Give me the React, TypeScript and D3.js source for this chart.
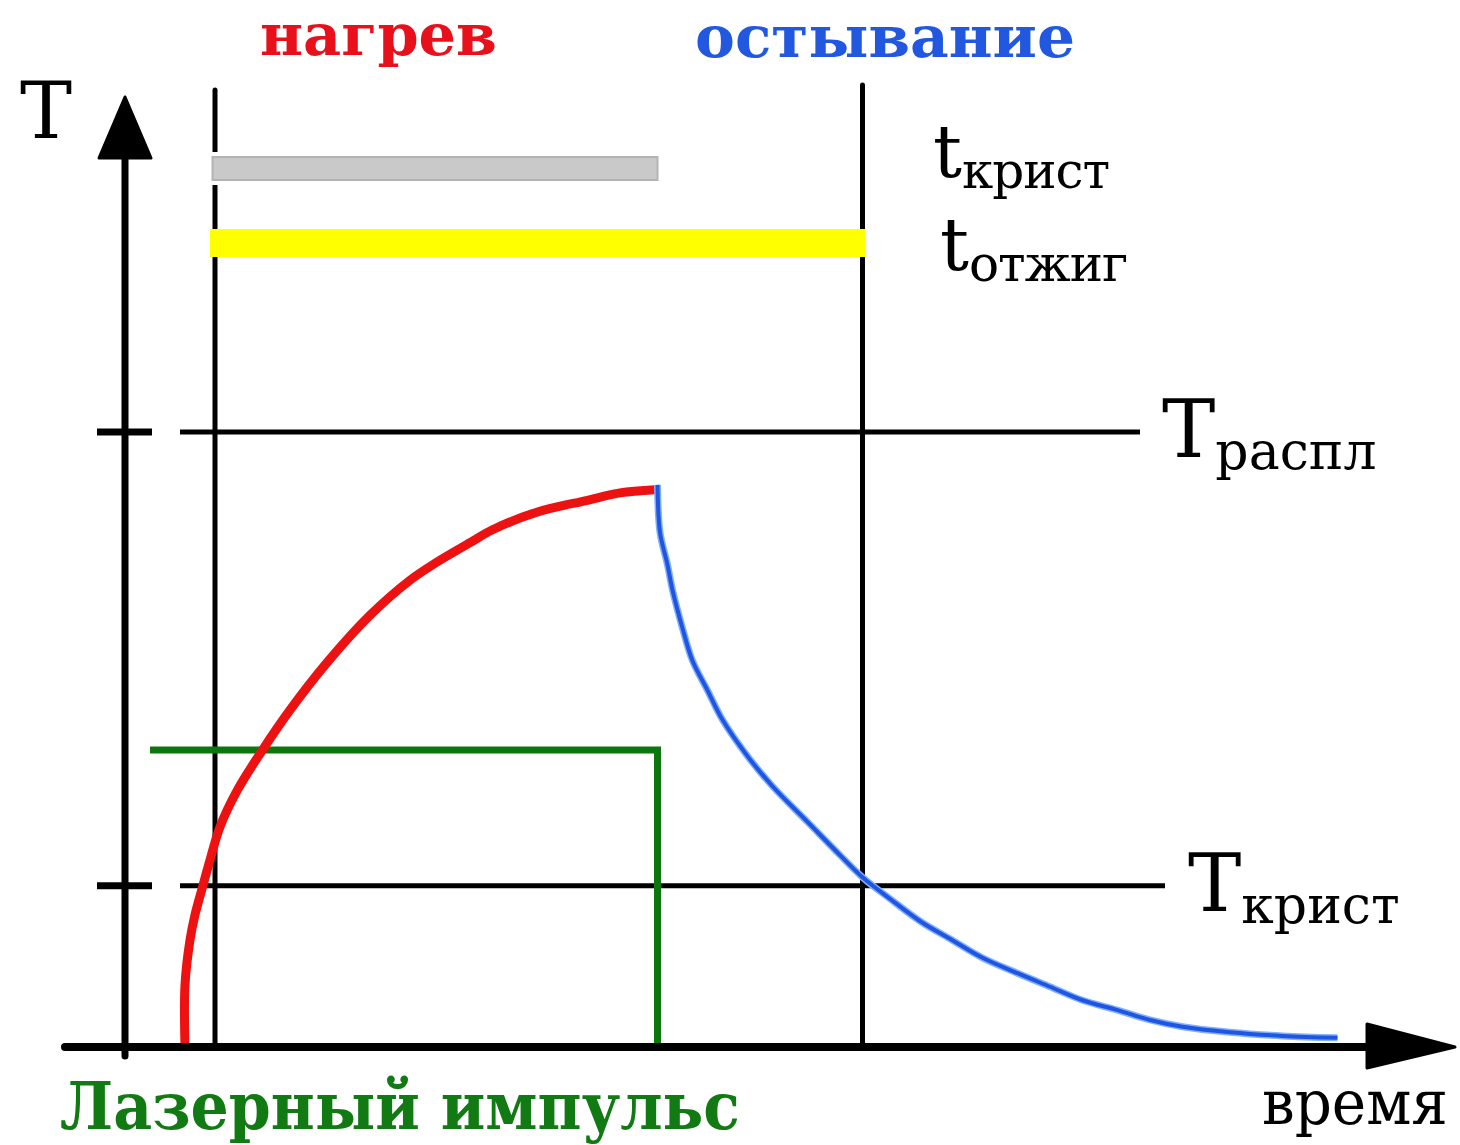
import React from "react";
import * as d3 from "d3";

// ---- data (time in arbitrary units 0..100, temperature in units where T_распл = 100)
const heatT = [4.8, 4.8, 5.2, 5.6, 6.2, 6.8, 7.6, 9.0, 11.0, 13.2, 16.2, 19.6, 22.8, 25.0, 27.6, 29.4, 33.0, 37.0, 39.6, 42.4];
const heatV = [0, 10.1, 17.4, 21.5, 26.0, 30.4, 35.8, 41.8, 48.3, 54.8, 62.6, 70.2, 75.9, 78.9, 82.0, 84.1, 87.0, 88.9, 90.1, 90.6];
const coolT = [42.6, 42.8, 43.4, 43.8, 44.6, 45.4, 46.6, 47.8, 49.8, 51.8, 54.6, 57.2, 59.0, 61.2, 63.8, 66.0, 68.6, 71.4, 74.0, 76.6, 79.4, 82.0, 84.6, 88.4, 92.6, 97.0];
const coolV = [91.4, 83.7, 78.4, 74.3, 68.1, 62.8, 58.0, 53.2, 47.3, 42.4, 36.6, 31.2, 27.6, 24.1, 20.2, 17.6, 14.5, 12.0, 9.8, 7.6, 6.0, 4.4, 3.3, 2.4, 1.8, 1.5];
const levelNames = ["распл", "крист"];
const levelValues = [100, 26.2];
const levelEnds = [81.2, 83.2];
const markerTimes = [7.2, 59.0];
const pulseStart = 2.0;
const pulseEnd = 42.6;
const pulseLevel = 48.3;
const intervalNames = ["крист", "отжиг"];
const intervalStart = [7.0, 6.8];
const intervalEnd = [42.6, 59.2];
const titleHeat = "нагрев";
const titleCool = "остывание";
const pulseLabel = "Лазерный импульс";
const xLabel = "время";
const yLabel = "T";

const W = 1460;
const H = 1145;
const FONT = "'DejaVu Serif', 'Liberation Serif', serif";

export default function App() {
  const x = d3.scaleLinear().domain([0, 100]).range([125, 1375]);
  const y = d3.scaleLinear().domain([0, 100]).range([1047, 432]);
  const smooth = d3
    .line<[number, number]>()
    .x((d) => x(d[0]))
    .y((d) => y(d[1]))
    .curve(d3.curveCatmullRom.alpha(0.5));
  const straight = d3
    .line<[number, number]>()
    .x((d) => x(d[0]))
    .y((d) => y(d[1]));
  const heat = heatT.map((t, i) => [t, heatV[i]] as [number, number]);
  const cool = coolT.map((t, i) => [t, coolV[i]] as [number, number]);
  const pulse: [number, number][] = [
    [pulseStart, pulseLevel],
    [pulseEnd, pulseLevel],
    [pulseEnd, 0],
  ];
  const x0 = x(0);
  const y0 = y(0);
  const barY = [157, 229];
  const barH = [23, 28];
  const barFill = ["#c9c9c9", "#ffff00"];
  const barStroke = ["#b4b4b4", "none"];
  const labelY = [177, 270];
  const labelX = [933, 940];

  return (
    <svg
      width={W}
      height={H}
      style={{ position: "absolute", left: 0, top: 0, background: "#fff" }}
      fontFamily={FONT}
    >
      <rect x={0} y={0} width={W} height={H} fill="#fff" />
      {/* marker vertical lines */}
      {markerTimes.map((t, i) => (
        <line key={"m" + i} x1={x(t)} x2={x(t)} y1={i === 0 ? 90 : 85} y2={y0} stroke="#000" strokeWidth={5} strokeLinecap="round" />
      ))}
      {/* interval bars */}
      {intervalNames.map((n, i) => (
        <g key={"b" + i}>
          {i === 0 && (
            <rect x={x(intervalStart[i]) - 4} y={barY[i] - 5} width={x(intervalEnd[i]) - x(intervalStart[i]) + 6} height={barH[i] + 10} fill="#fff" />
          )}
          <rect
            x={x(intervalStart[i])}
            y={barY[i]}
            width={x(intervalEnd[i]) - x(intervalStart[i])}
            height={barH[i]}
            fill={barFill[i]}
            stroke={barStroke[i]}
            strokeWidth={2}
          />
          <text x={labelX[i]} y={labelY[i]} fontSize={72} fill="#000">
            t
            <tspan dy={11} fontSize={50} letterSpacing={-1}>{n}</tspan>
          </text>
        </g>
      ))}
      {/* level lines */}
      {levelNames.map((n, i) => (
        <g key={"l" + i}>
          <line x1={180} x2={x(levelEnds[i])} y1={y(levelValues[i])} y2={y(levelValues[i])} stroke="#000" strokeWidth={5} />
          <line x1={97} x2={152} y1={y(levelValues[i])} y2={y(levelValues[i])} stroke="#000" strokeWidth={7} />
          <text x={x(levelEnds[i]) + (i === 0 ? 22 : 23)} y={y(levelValues[i]) + 25} fontSize={80} fill="#000">
            T
            <tspan dy={12} fontSize={52}>{n}</tspan>
          </text>
        </g>
      ))}
      {/* laser pulse */}
      <path d={straight(pulse) || ""} fill="none" stroke="#0e760e" strokeWidth={7} strokeLinejoin="miter" />
      {/* heating */}
      <path d={smooth(heat) || ""} fill="none" stroke="#ee1111" strokeWidth={9} strokeLinejoin="round" />
      {/* cooling */}
      <path d={smooth(cool) || ""} fill="none" stroke="#7fb0ff" strokeWidth={7} strokeLinejoin="round" />
      <path d={smooth(cool) || ""} fill="none" stroke="#1f55e0" strokeWidth={4} strokeLinejoin="round" />
      {/* axes */}
      <line x1={x0} x2={x0} y1={150} y2={1056} stroke="#000" strokeWidth={7} strokeLinecap="round" />
      <path d={`M${x0},97 L${x0 + 26},158 L${x0 - 26},158 Z`} fill="#000" stroke="#000" strokeWidth={3} strokeLinejoin="round" />
      <line x1={65} x2={1375} y1={y0} y2={y0} stroke="#000" strokeWidth={8} strokeLinecap="round" />
      <path d={`M1367,1024 L1455,${y0} L1367,1068 Z`} fill="#000" stroke="#000" strokeWidth={3} strokeLinejoin="round" />
      {/* labels */}
      <text x={20} y={138} fontSize={78} fill="#000">{yLabel}</text>
      <text x={260} y={55} fontSize={58} fontWeight="bold" fill="#e8101a" textLength={237} lengthAdjust="spacingAndGlyphs">{titleHeat}</text>
      <text x={695} y={57} fontSize={58} fontWeight="bold" fill="#2258e0" textLength={380} lengthAdjust="spacingAndGlyphs">{titleCool}</text>
      <text x={60} y={1129} fontSize={66} fontWeight="bold" fill="#127a12" textLength={680} lengthAdjust="spacingAndGlyphs">{pulseLabel}</text>
      <text x={1262} y={1124} fontSize={62} fill="#000" textLength={186} lengthAdjust="spacingAndGlyphs">{xLabel}</text>
    </svg>
  );
}
